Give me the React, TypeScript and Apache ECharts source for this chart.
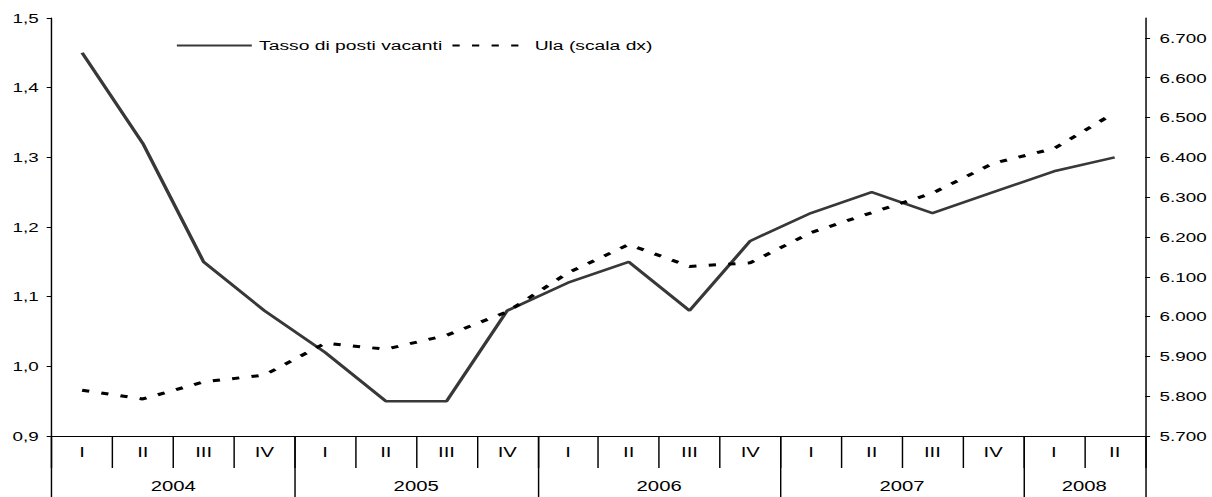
import React, { useEffect, useRef } from "react";
import * as echarts from "echarts";

const quarters = [
  "I", "II", "III", "IV",
  "I", "II", "III", "IV",
  "I", "II", "III", "IV",
  "I", "II", "III", "IV",
  "I", "II",
];
const years = ["2004", "2005", "2006", "2007", "2008"];
// year label position (in half-quarter steps) and boundaries
const yearLabelIdx = [4, 12, 20, 28, 34];
const yearTickIdx = [0, 8, 16, 24, 32, 36];

const tassoPosti = [
  1.45, 1.32, 1.15, 1.08,
  1.02, 0.95, 0.95, 1.08,
  1.12, 1.15, 1.08, 1.18,
  1.22, 1.25, 1.22, 1.25,
  1.28, 1.3,
];
const ula = [
  5815, 5793, 5836, 5853,
  5933, 5918, 5953, 6012,
  6110, 6181, 6126, 6135,
  6211, 6261, 6310, 6385,
  6422, 6512,
];
const rightTicks = [5700, 5800, 5900, 6000, 6100, 6200, 6300, 6400, 6500, 6600, 6700];

const SX = 1212 / 836;
const FONT = "'Liberation Sans', Arial, sans-serif";

export default function App() {
  const ref = useRef<HTMLDivElement>(null);

  useEffect(() => {
    if (!ref.current) return;
    const chart = echarts.init(ref.current, null, { renderer: "svg" });
    const halfSteps = Array.from({ length: 37 }, (_, i) => String(i));
    const option: any = {
      animation: false,
      backgroundColor: "#ffffff",
      textStyle: { fontFamily: FONT, color: "#000" },
      grid: { left: 35.7, right: 46.2, top: 18, bottom: 61, containLabel: false },
      legend: {
        left: 116,
        top: 34,
        itemWidth: 51.7,
        itemHeight: 14,
        itemGap: 6,
        itemStyle: { opacity: 0 },
        textStyle: { fontFamily: FONT, fontSize: 13.3, color: "#000" },
        data: ["Tasso di posti vacanti", "Ula (scala dx)"],
      },
      xAxis: [
        {
          type: "category",
          data: quarters,
          boundaryGap: true,
          position: "bottom",
          axisLine: { show: true, lineStyle: { color: "#000", width: 1 } },
          axisTick: { show: true, interval: 0, length: 32, alignWithLabel: false, lineStyle: { color: "#000" } },
          axisLabel: { interval: 0, margin: 9, fontSize: 14, color: "#000", fontFamily: FONT },
          splitLine: { show: false },
        },
        {
          type: "category",
          data: halfSteps,
          boundaryGap: false,
          position: "bottom",
          axisLine: { show: false },
          axisTick: {
            show: true,
            length: 61,
            interval: (idx: number) => yearTickIdx.includes(idx),
            lineStyle: { color: "#000" },
          },
          axisLabel: {
            margin: 43,
            fontSize: 14,
            color: "#000",
            fontFamily: FONT,
            interval: (idx: number) => yearLabelIdx.includes(idx),
            formatter: (_v: string, idx: number) => {
              const k = yearLabelIdx.indexOf(idx);
              return k >= 0 ? years[k] : "";
            },
          },
          splitLine: { show: false },
        },
      ],
      yAxis: [
        {
          type: "value",
          min: 0.9,
          max: 1.5,
          interval: 0.1,
          position: "left",
          axisLine: { show: true, lineStyle: { color: "#000", width: 1 } },
          axisTick: { show: true, length: 3.5, lineStyle: { color: "#000" } },
          axisLabel: {
            margin: 9,
            fontSize: 13,
            color: "#000",
            fontFamily: FONT,
            formatter: (v: number) => v.toFixed(1).replace(".", ","),
          },
          splitLine: { show: false },
        },
        {
          type: "value",
          min: 5700,
          max: 6750,
          interval: 100,
          position: "right",
          axisLine: { show: true, lineStyle: { color: "#000", width: 1 } },
          axisTick: { show: true, length: 3.5, lineStyle: { color: "#000" }, customValues: rightTicks },
          axisLabel: {
            margin: 10,
            fontSize: 13,
            color: "#000",
            fontFamily: FONT,
            customValues: rightTicks,
            formatter: (v: number) => {
              const s = String(Math.round(v));
              return s.slice(0, s.length - 3) + "." + s.slice(s.length - 3);
            },
          },
          splitLine: { show: false },
        },
      ],
      series: [
        {
          name: "Tasso di posti vacanti",
          type: "line",
          xAxisIndex: 0,
          yAxisIndex: 0,
          data: tassoPosti,
          symbol: "none",
          lineStyle: { color: "#383838", width: 2.5, type: "solid" },
          itemStyle: { color: "#383838" },
        },
        {
          name: "Ula (scala dx)",
          type: "line",
          xAxisIndex: 0,
          yAxisIndex: 1,
          data: ula,
          symbol: "none",
          lineStyle: { color: "#000", width: 3, type: [5, 8.5] },
          itemStyle: { color: "#000" },
        },
      ],
    };
    chart.setOption(option);
    return () => chart.dispose();
  }, []);

  return (
    <div
      ref={ref}
      style={{
        position: "absolute",
        left: 0,
        top: 0,
        width: 836,
        height: 497,
        transform: `scaleX(${SX})`,
        transformOrigin: "0 0",
      }}
    />
  );
}
